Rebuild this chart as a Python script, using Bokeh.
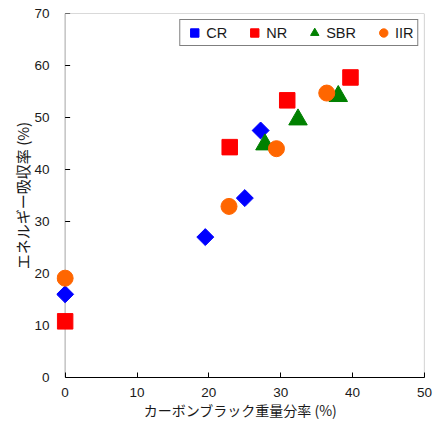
import math
from bokeh.plotting import figure
from bokeh.models import Legend, LegendItem, FixedTicker, BoxAnnotation
from bokeh.embed import file_html
from bokeh.resources import INLINE

cr_x = [0, 19.5, 25.0, 27.2]
cr_y = [16.0, 27.0, 34.5, 47.5]
nr_x = [0, 22.9, 30.9, 39.7]
nr_y = [10.8, 44.3, 53.3, 57.7]
sbr_x = [27.8, 32.4, 38.0]
sbr_y = [44.8, 49.6, 54.1]
iir_x = [0, 22.8, 29.4, 36.4]
iir_y = [19.1, 32.9, 44.0, 54.7]

x_ticks = [0, 10, 20, 30, 40, 50]
y_ticks = [0, 10, 20, 30, 40, 50, 60, 70]
x_min, x_max = 0, 50
y_min, y_max = 0, 70

FONT = "Liberation Sans"
JP = "Noto Sans CJK JP"
TXT = "#1a1a1a"

p = figure(width=436, height=425, x_range=(-1.2, x_max), y_range=(y_min, y_max),
           output_backend="svg", toolbar_location=None,
           min_border_left=56, min_border_right=12, min_border_top=13, min_border_bottom=48)
p.grid.visible = False
p.outline_line_color = None

for ax in (p.xaxis[0], p.yaxis[0]):
    ax.major_tick_in = 5
    ax.major_tick_out = 0
    ax.minor_tick_line_color = None
    ax.axis_line_color = "black"
    ax.axis_line_width = 1.2
    ax.major_tick_line_color = "black"
    ax.major_label_text_font = FONT
    ax.major_label_text_font_size = "13.5px"
    ax.major_label_text_color = TXT
    ax.axis_label_text_font = JP
    ax.axis_label_text_font_style = "normal"
    ax.axis_label_text_color = TXT

p.xaxis.ticker = FixedTicker(ticks=x_ticks)
p.yaxis.ticker = FixedTicker(ticks=y_ticks)
p.xaxis.bounds = (x_min, x_max)
p.yaxis.axis_line_color = None
p.yaxis.major_tick_line_color = None
p.xaxis.axis_label = "カーボンブラック重量分率 (%)"
p.yaxis.axis_label = "エネルギー吸収率 (%)"
p.xaxis.axis_label_text_font_size = "14px"
p.yaxis.axis_label_text_font_size = "15px"
p.xaxis.major_label_standoff = 10
p.yaxis.major_label_standoff = 7
p.xaxis.axis_label_standoff = 0
p.yaxis.axis_label_standoff = -2

# plot box starting at x = 0 (markers at x=0 must not be clipped)
box = BoxAnnotation(left=x_min, right=x_max, bottom=y_min, top=y_max,
                    fill_alpha=0, line_color="black", line_width=1.2, level="underlay")
p.add_layout(box)
# inward ticks on the y axis at x = 0
p.ray(x=[x_min] * len(y_ticks), y=y_ticks, length=5, length_units="screen", angle=0,
      line_color="black", line_width=1)

r_cr = p.scatter(cr_x, cr_y, marker="square", angle=math.pi / 4, size=12,
                 fill_color="#0000FF", line_color="#0000FF")
r_nr = p.scatter(nr_x, nr_y, marker="square", size=15.5,
                 fill_color="#FF0000", line_color="#FF0000")
r_sbr = p.scatter(sbr_x, sbr_y, marker="triangle", size=18.5,
                  fill_color="#008000", line_color="#008000")
r_iir = p.scatter(iir_x, iir_y, marker="circle", size=16,
                  fill_color="#FF6600", line_color="#FF6600")

legend = Legend(items=[
    LegendItem(label="CR", renderers=[r_cr]),
    LegendItem(label="NR", renderers=[r_nr]),
    LegendItem(label="SBR", renderers=[r_sbr]),
    LegendItem(label="IIR", renderers=[r_iir]),
], orientation="horizontal", location="top_right")
legend.margin = 6
legend.padding = 2
legend.spacing = 15
legend.label_standoff = 0
legend.glyph_width = 24
legend.glyph_height = 21
legend.label_text_font = FONT
legend.label_text_font_size = "14.5px"
legend.label_text_color = TXT
legend.label_height = 14
legend.border_line_color = "black"
legend.border_line_width = 1.2
p.add_layout(legend)

open("out.html", "w").write(file_html(p, INLINE))
